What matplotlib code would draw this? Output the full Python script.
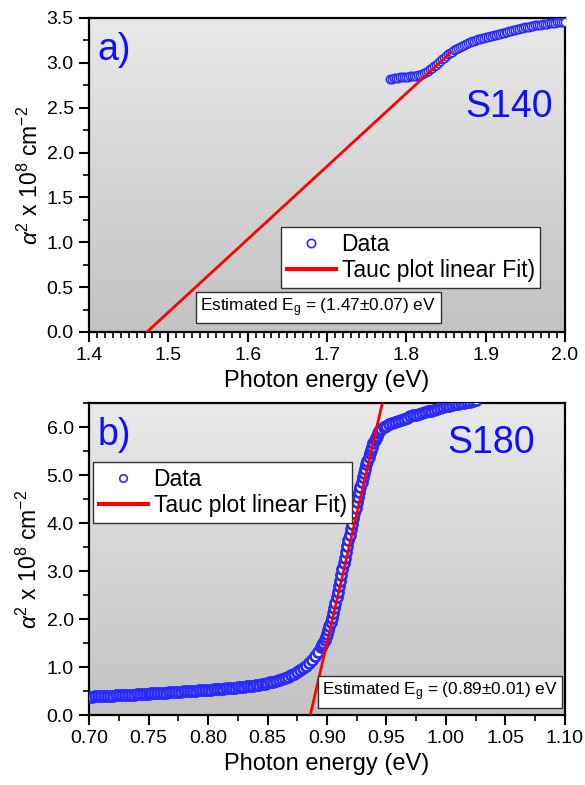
import numpy as np
import matplotlib
matplotlib.use("Agg")
import matplotlib.pyplot as plt
from matplotlib.ticker import MultipleLocator, FormatStrFormatter

plt.rcParams['font.family'] = ['Liberation Sans', 'DejaVu Sans']
plt.rcParams['mathtext.fontset'] = 'custom'
plt.rcParams['mathtext.rm'] = 'Liberation Sans'
plt.rcParams['mathtext.it'] = 'Liberation Sans:italic'

# ---------------- Panel a (S140) ----------------
a_energy = [1.7800, 1.7825, 1.7850, 1.7875, 1.7900, 1.7925, 1.7950, 1.7975, 1.8000, 1.8025,
            1.8050, 1.8075, 1.8100, 1.8125, 1.8150, 1.8175, 1.8200, 1.8225, 1.8250, 1.8275,
            1.8300, 1.8325, 1.8350, 1.8375, 1.8400, 1.8425, 1.8450, 1.8475, 1.8500, 1.8525,
            1.8550, 1.8575, 1.8600, 1.8625, 1.8650, 1.8675, 1.8700, 1.8725, 1.8750, 1.8775,
            1.8800, 1.8825, 1.8850, 1.8875, 1.8900, 1.8925, 1.8950, 1.8975, 1.9000, 1.9025,
            1.9050, 1.9075, 1.9100, 1.9125, 1.9150, 1.9175, 1.9200, 1.9225, 1.9250, 1.9275,
            1.9300, 1.9325, 1.9350, 1.9375, 1.9400, 1.9425, 1.9450, 1.9475, 1.9500, 1.9525,
            1.9550, 1.9575, 1.9600, 1.9625, 1.9650, 1.9675, 1.9700, 1.9725, 1.9750, 1.9775,
            1.9800, 1.9825, 1.9850, 1.9875, 1.9900, 1.9925, 1.9950, 1.9975, 2.0000]
a_alpha2 = [2.820, 2.825, 2.830, 2.833, 2.836, 2.838, 2.840, 2.842, 2.845, 2.847,
            2.849, 2.851, 2.853, 2.856, 2.860, 2.867, 2.876, 2.888, 2.900, 2.914,
            2.929, 2.944, 2.960, 2.980, 3.000, 3.020, 3.040, 3.058, 3.076, 3.094,
            3.110, 3.125, 3.140, 3.155, 3.168, 3.180, 3.190, 3.200, 3.210, 3.220,
            3.230, 3.240, 3.248, 3.255, 3.262, 3.268, 3.273, 3.278, 3.283, 3.289,
            3.295, 3.301, 3.307, 3.313, 3.319, 3.325, 3.330, 3.336, 3.342, 3.348,
            3.354, 3.360, 3.365, 3.371, 3.377, 3.382, 3.387, 3.392, 3.397, 3.401,
            3.405, 3.409, 3.413, 3.417, 3.420, 3.424, 3.427, 3.431, 3.434, 3.437,
            3.440, 3.443, 3.446, 3.449, 3.452, 3.454, 3.456, 3.458, 3.460]
a_fit_x = [1.473, 1.856]
a_fit_y = [0.0, 3.116]

# ---------------- Panel b (S180) ----------------
b_energy = [0.7000, 0.7025, 0.7050, 0.7075, 0.7100, 0.7125, 0.7150, 0.7175, 0.7200, 0.7225,
            0.7250, 0.7275, 0.7300, 0.7325, 0.7350, 0.7375, 0.7400, 0.7425, 0.7450, 0.7475,
            0.7500, 0.7525, 0.7550, 0.7575, 0.7600, 0.7625, 0.7650, 0.7675, 0.7700, 0.7725,
            0.7750, 0.7775, 0.7800, 0.7825, 0.7850, 0.7875, 0.7900, 0.7925, 0.7950, 0.7975,
            0.8000, 0.8025, 0.8050, 0.8075, 0.8100, 0.8125, 0.8150, 0.8175, 0.8200, 0.8225,
            0.8250, 0.8275, 0.8300, 0.8325, 0.8350, 0.8375, 0.8400, 0.8425, 0.8450, 0.8475,
            0.8500, 0.8525, 0.8550, 0.8575, 0.8600, 0.8625, 0.8650, 0.8675, 0.8700, 0.8725,
            0.8750, 0.8775, 0.8800, 0.8825, 0.8850, 0.8875, 0.8900, 0.8925,
            0.895, 0.896, 0.897, 0.898, 0.899, 0.900, 0.901, 0.902, 0.903, 0.904,
            0.905, 0.906, 0.907, 0.908, 0.909, 0.910, 0.911, 0.912, 0.913, 0.914,
            0.915, 0.916, 0.917, 0.918, 0.919, 0.920, 0.921, 0.922, 0.923, 0.924,
            0.925, 0.926, 0.927, 0.928, 0.929, 0.930, 0.931, 0.932, 0.933, 0.934,
            0.935, 0.936, 0.937, 0.938, 0.939, 0.940, 0.941, 0.942, 0.943, 0.944,
            0.945, 0.9475, 0.9500, 0.9525, 0.9550, 0.9575, 0.9600, 0.9625, 0.9650, 0.9675,
            0.9700, 0.9725, 0.9750, 0.9775, 0.9800, 0.9825, 0.9850, 0.9875, 0.9900, 0.9925,
            0.9950, 0.9975, 1.0000, 1.0025, 1.0050, 1.0075, 1.0100, 1.0125, 1.0150, 1.0175,
            1.0200, 1.0225, 1.0250]
b_alpha2 = [0.380, 0.383, 0.386, 0.389, 0.392, 0.395, 0.398, 0.401, 0.404, 0.407,
            0.410, 0.413, 0.416, 0.419, 0.422, 0.425, 0.428, 0.432, 0.436, 0.440,
            0.444, 0.448, 0.452, 0.456, 0.460, 0.464, 0.468, 0.472, 0.476, 0.480,
            0.484, 0.488, 0.492, 0.496, 0.500, 0.504, 0.508, 0.512, 0.516, 0.520,
            0.525, 0.530, 0.535, 0.540, 0.545, 0.550, 0.555, 0.560, 0.566, 0.572,
            0.578, 0.584, 0.590, 0.597, 0.604, 0.612, 0.620, 0.630, 0.640, 0.652,
            0.665, 0.680, 0.695, 0.712, 0.730, 0.750, 0.772, 0.800, 0.830, 0.860,
            0.890, 0.930, 0.970, 1.020, 1.080, 1.150, 1.230, 1.320,
            1.42, 1.46, 1.51, 1.56, 1.62, 1.69, 1.77, 1.85, 1.94, 2.03,
            2.13, 2.23, 2.34, 2.45, 2.56, 2.68, 2.80, 2.92, 3.04, 3.16,
            3.28, 3.40, 3.52, 3.64, 3.76, 3.87, 3.98, 4.10, 4.21, 4.32,
            4.43, 4.54, 4.64, 4.75, 4.85, 4.95, 5.04, 5.13, 5.22, 5.30,
            5.38, 5.45, 5.52, 5.59, 5.66, 5.72, 5.77, 5.82, 5.87, 5.91,
            5.95, 6.00, 6.03, 6.06, 6.08, 6.10, 6.12, 6.14, 6.17, 6.19,
            6.22, 6.24, 6.25, 6.27, 6.29, 6.31, 6.33, 6.34, 6.36, 6.38,
            6.40, 6.41, 6.43, 6.44, 6.46, 6.47, 6.48, 6.50, 6.51, 6.52,
            6.53, 6.55, 6.56]
b_fit_x = [0.886, 0.9465]
b_fit_y = [0.0, 6.5]

ylabel = r'$\mathit{\alpha}^2$ x 10$^8$ cm$^{-2}$'
xlabel = 'Photon energy (eV)'

W, H = 585, 785
fig = plt.figure(figsize=(W / 100, H / 100), dpi=100)
fig.patch.set_facecolor('white')

blue = '#2a2aff'
grad = np.linspace(0, 1, 256).reshape(-1, 1)
cmap = matplotlib.colors.LinearSegmentedColormap.from_list('bg', ['#c2c2c2', '#e9e9e9'])


def style_axes(ax, xlim, ylim, xmaj, xmin, ymaj, ymin, xfmt, yfmt):
    ax.imshow(grad, extent=[0, 1, 0, 1], transform=ax.transAxes, origin='lower',
              cmap=cmap, aspect='auto', zorder=0)
    ax.set_xlim(*xlim)
    ax.set_ylim(*ylim)
    ax.xaxis.set_major_locator(MultipleLocator(xmaj))
    ax.xaxis.set_minor_locator(MultipleLocator(xmin))
    ax.yaxis.set_major_locator(MultipleLocator(ymaj))
    ax.yaxis.set_minor_locator(MultipleLocator(ymin))
    ax.xaxis.set_major_formatter(FormatStrFormatter(xfmt))
    ax.yaxis.set_major_formatter(FormatStrFormatter(yfmt))
    ax.tick_params(which='major', direction='out', length=7, width=1.5, labelsize=14,
                   colors='black', pad=4)
    ax.tick_params(which='minor', direction='out', length=4, width=1.2)
    for s in ax.spines.values():
        s.set_linewidth(1.6)
    ax.set_xlabel(xlabel, fontsize=17, labelpad=4)
    ax.set_ylabel(ylabel, fontsize=16.5, labelpad=3)


def add_legend(ax, anchor, mscale):
    leg = ax.legend(loc='upper left', bbox_to_anchor=anchor, fontsize=16.5,
                    frameon=True, fancybox=False, edgecolor='#333333', framealpha=1,
                    handlelength=2.15, handletextpad=0.25, borderpad=0.25,
                    labelspacing=0.15, borderaxespad=0, markerscale=mscale)
    leg.get_frame().set_linewidth(1.0)
    for lh in leg.legend_handles:
        if lh.get_linestyle() not in ('None', 'none', ''):
            lh.set_linewidth(3)
        else:
            lh.set_markeredgewidth(1.2)
    return leg


# ---------- Panel a ----------
ax1 = fig.add_axes([89 / W, 1 - 332 / H, 476 / W, 314 / H])
style_axes(ax1, (1.4, 2.0), (0, 3.5), 0.1, 0.01, 0.5, 0.25, '%.1f', '%.1f')
ax1.plot(a_energy, a_alpha2, 'o', ms=6, mfc='white', mec=blue, mew=1.1,
         label='Data', zorder=3)
ax1.plot(a_fit_x, a_fit_y, '-', color='red', lw=2, label='Tauc plot linear Fit)',
         zorder=4)
ax1.text(0.018, 0.955, 'a)', transform=ax1.transAxes, fontsize=27, color='#1010ff',
         va='top', ha='left')
ax1.text(0.975, 0.715, 'S140', transform=ax1.transAxes, fontsize=27, color='#1010ff',
         va='center', ha='right')
add_legend(ax1, (0.403, 0.334), 1.0)
ax1.text(0.234, 0.078, r'Estimated E$_{\mathrm{g}}$ = (1.47$\pm$0.07) eV',
         transform=ax1.transAxes, fontsize=12.4, va='center', ha='left',
         bbox=dict(boxstyle='square,pad=0.25', fc='white', ec='#333333', lw=1.0),
         zorder=5)

# ---------- Panel b ----------
ax2 = fig.add_axes([89 / W, 1 - 715 / H, 476 / W, 312 / H])
style_axes(ax2, (0.7, 1.1), (0, 6.5), 0.05, 0.025, 1.0, 0.5, '%.2f', '%.1f')
ax2.plot(b_energy, b_alpha2, 'o', ms=7.2, mfc='white', mec=blue, mew=2.0,
         label='Data', zorder=3)
ax2.plot(b_fit_x, b_fit_y, '-', color='red', lw=2, label='Tauc plot linear Fit)',
         zorder=4)
ax2.text(0.018, 0.955, 'b)', transform=ax2.transAxes, fontsize=27, color='#1010ff',
         va='top', ha='left')
ax2.text(0.937, 0.872, 'S180', transform=ax2.transAxes, fontsize=27, color='#1010ff',
         va='center', ha='right')
add_legend(ax2, (0.008, 0.811), 0.75)
ax2.text(0.49, 0.074, r'Estimated E$_{\mathrm{g}}$ = (0.89$\pm$0.01) eV',
         transform=ax2.transAxes, fontsize=12.4, va='center', ha='left',
         bbox=dict(boxstyle='square,pad=0.25', fc='white', ec='#333333', lw=1.0),
         zorder=5)

fig.savefig('out.png', dpi=100)
